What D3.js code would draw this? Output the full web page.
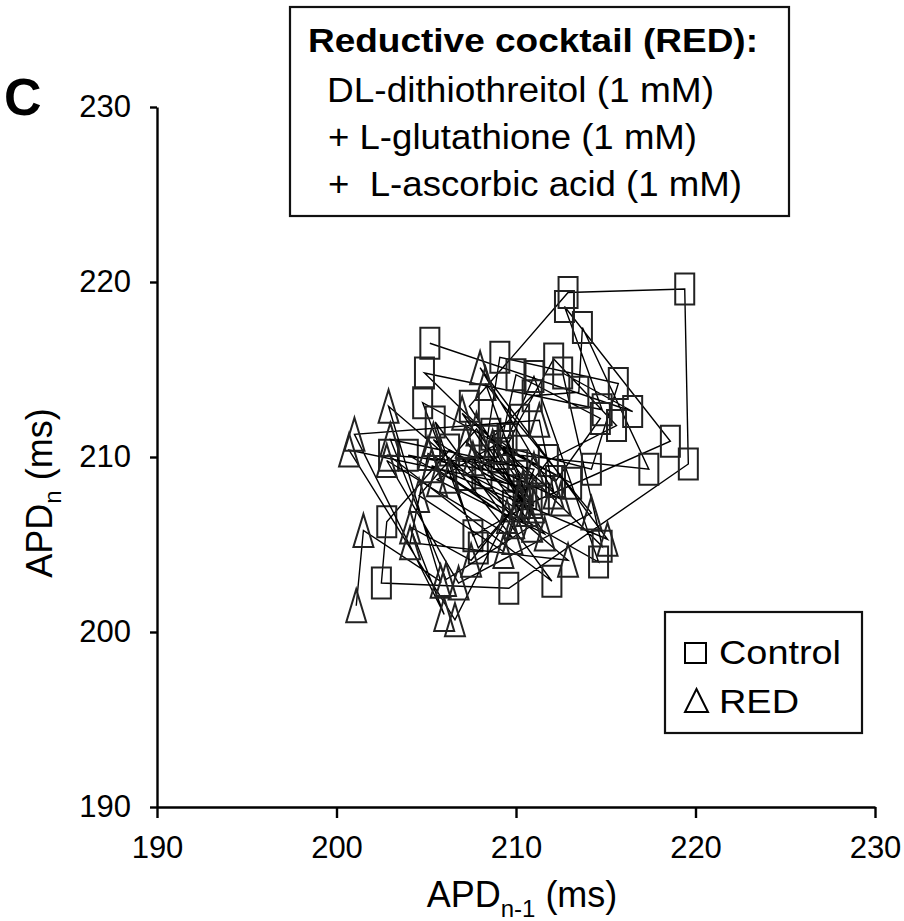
<!DOCTYPE html>
<html>
<head>
<meta charset="utf-8">
<style>
body { margin: 0; background: #fff; }
svg text { font-family: "Liberation Sans", Arial, Helvetica, sans-serif; fill: #000; }
</style>
</head>
<body>
<svg id="chart" width="904" height="921"></svg>
<script src="https://cdn.jsdelivr.net/npm/d3@7"></script>
<script>

// successive APD values (ms), each point is (APD n-1, APD n)
var ctrlAPD = [205.2, 216.5, 212.6, 214.8, 204.9, 214.8, 212.7, 218.6, 210.9, 207.4,
  212.9, 219.4, 219.6, 209.6, 202.5, 202.8, 206.3, 210.4, 208.1, 209.1,
  215.7, 214.2, 209.3, 210.6, 207.9, 204.8, 213.1, 208.5, 210.9, 213.5,
  213.7, 217.4, 209.3, 210.2, 212.1, 215.6, 211.8, 209.8, 207.2, 209.0,
  210.0, 214.7, 212.2, 208.6, 211.3, 207.6, 205.5, 212.0, 202.9, 210.1,
  209.5, 211.0, 214.6, 204.0, 210.1, 208.9];

var redAPD = [201.1, 201.5, 205.8, 202.9, 212.9, 204.1, 205.1, 210.2, 207.5, 204.1,
  206.0, 201.0, 211.3, 212.1, 208.0, 215.1, 205.3, 209.5, 206.6, 200.7,
  210.4, 208.3, 214.2, 206.8, 202.8, 209.8, 205.4, 211.0, 207.2, 210.9,
  206.1, 203.0, 211.0, 209.3, 204.6, 207.8, 211.6, 205.6, 208.7, 210.6,
  207.0, 212.5, 207.6, 209.9, 206.3, 208.9];

var axisTicks = [190, 200, 210, 220, 230];
var boxLines = ["Reductive cocktail (RED):", "DL-dithiothreitol (1 mM)",
  "+ L-glutathione (1 mM)", "+  L-ascorbic acid (1 mM)"];
var legendLabels = ["Control", "RED"];

var svg = d3.select("#chart");

var x = d3.scaleLinear().domain([190, 230]).range([157, 875]);
var y = d3.scaleLinear().domain([190, 230]).range([807, 107]);

// axes
var yAxis = svg.append("g")
  .attr("transform", "translate(157,0)")
  .call(d3.axisLeft(y).tickValues(axisTicks).tickSize(7).tickSizeOuter(0).tickPadding(19));
var xAxis = svg.append("g")
  .attr("transform", "translate(0,807)")
  .call(d3.axisBottom(x).tickValues(axisTicks).tickSize(11).tickSizeOuter(0).tickPadding(18));

[xAxis, yAxis].forEach(function(g) {
  g.select(".domain").attr("stroke", "#000").attr("stroke-width", 2.4);
  g.selectAll(".tick line").attr("stroke", "#000").attr("stroke-width", 2.4);
  g.selectAll(".tick text")
    .attr("font-size", 31)
    .attr("font-family", "Liberation Sans, Arial, sans-serif")
    .attr("fill", "#000");
});

// axis titles
var xt = svg.append("text")
  .attr("x", 522).attr("y", 907)
  .attr("text-anchor", "middle")
  .attr("font-size", 36);
xt.append("tspan").text("APD");
xt.append("tspan").attr("font-size", 24).attr("dy", 10).text("n-1");
xt.append("tspan").attr("dy", -10).text(" (ms)");

var yt = svg.append("text")
  .attr("transform", "translate(52,493) rotate(-90)")
  .attr("text-anchor", "middle")
  .attr("font-size", 36);
yt.append("tspan").text("APD");
yt.append("tspan").attr("font-size", 24).attr("dy", 9).text("n");
yt.append("tspan").attr("dy", -9).text(" (ms)");

// panel letter
svg.append("text")
  .attr("x", 4).attr("y", 115)
  .attr("font-size", 52)
  .attr("font-weight", "bold")
  .text("C");

// series
function drawSeries(apd, shape) {
  var pts = d3.pairs(apd);
  var line = d3.line()
    .x(function(d) { return x(d[0]); })
    .y(function(d) { return y(d[1]); });

  svg.append("path")
    .datum(pts)
    .attr("d", line)
    .attr("fill", "none")
    .attr("stroke", "#000")
    .attr("stroke-width", 1.4);

  var g = svg.append("g");
  if (shape == "square") {
    g.selectAll("rect").data(pts).enter().append("rect")
      .attr("x", function(d) { return x(d[0]) - 9.5; })
      .attr("y", function(d) { return y(d[1]) - 15.5; })
      .attr("width", 19)
      .attr("height", 31)
      .attr("fill", "none")
      .attr("stroke", "#222")
      .attr("stroke-width", 2);
  } else {
    g.selectAll("path").data(pts).enter().append("path")
      .attr("d", function(d) {
        var cx = x(d[0]), cy = y(d[1]);
        return "M" + cx + "," + (cy - 16.5) + "L" + (cx + 10) + "," + (cy + 16.5) +
          "L" + (cx - 10) + "," + (cy + 16.5) + "Z";
      })
      .attr("fill", "none")
      .attr("stroke", "#222")
      .attr("stroke-width", 2);
  }
}

drawSeries(ctrlAPD, "square");
drawSeries(redAPD, "triangle");

// treatment box
svg.append("rect")
  .attr("x", 290).attr("y", 7)
  .attr("width", 499).attr("height", 209)
  .attr("fill", "none")
  .attr("stroke", "#111")
  .attr("stroke-width", 2.2);

var boxX = [308, 327, 328, 328];
var boxY = [52, 102, 149, 196];
var boxW = [450, 387, 369, 414];
var boxSize = [34, 35, 35, 35];
boxLines.forEach(function(t, i) {
  svg.append("text")
    .attr("x", boxX[i]).attr("y", boxY[i])
    .attr("font-size", boxSize[i])
    .attr("font-weight", i == 0 ? "bold" : "normal")
    .attr("textLength", boxW[i])
    .attr("lengthAdjust", "spacingAndGlyphs")
    .style("white-space", "pre")
    .text(t);
});

// legend
svg.append("rect")
  .attr("x", 665).attr("y", 612)
  .attr("width", 197).attr("height", 121)
  .attr("fill", "#fff")
  .attr("stroke", "#111")
  .attr("stroke-width", 2.2);

svg.append("rect")
  .attr("x", 685).attr("y", 643)
  .attr("width", 21).attr("height", 20)
  .attr("fill", "none")
  .attr("stroke", "#000")
  .attr("stroke-width", 2);
svg.append("path")
  .attr("d", "M696.5,689L708,712L685,712Z")
  .attr("fill", "none")
  .attr("stroke", "#000")
  .attr("stroke-width", 2);

var legY = [664, 713];
var legW = [122, 80];
legendLabels.forEach(function(t, i) {
  svg.append("text")
    .attr("x", 719).attr("y", legY[i])
    .attr("font-size", 34)
    .attr("textLength", legW[i])
    .attr("lengthAdjust", "spacingAndGlyphs")
    .text(t);
});

</script>
</body>
</html>
